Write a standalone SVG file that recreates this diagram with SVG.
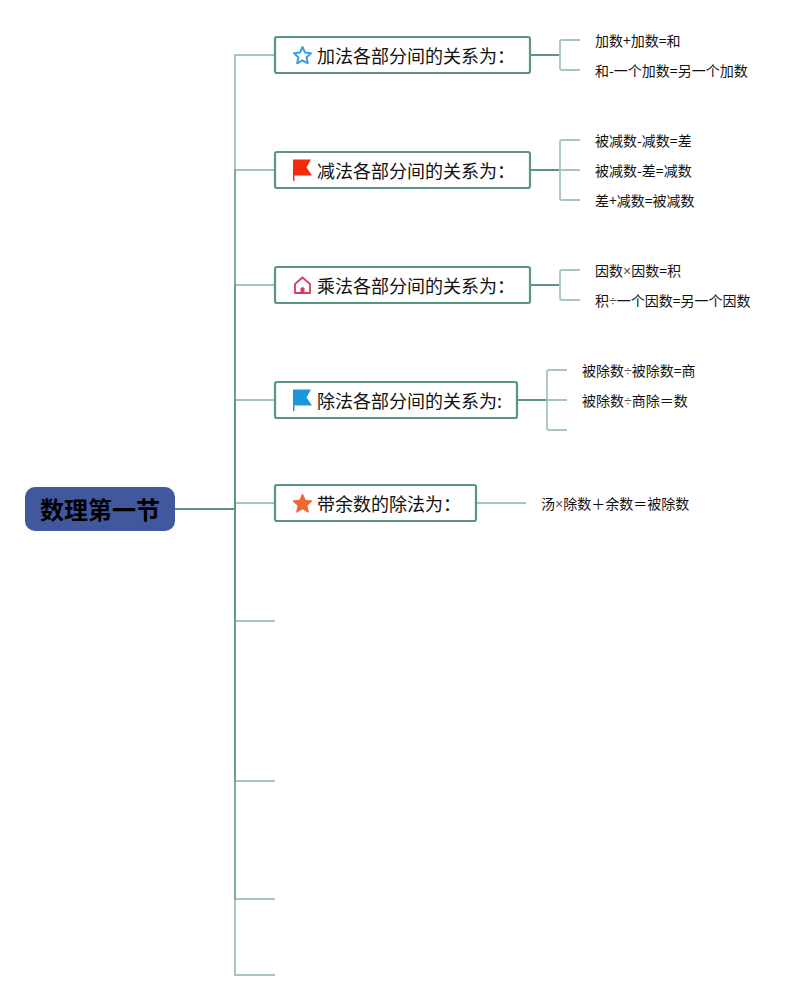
<svg xmlns="http://www.w3.org/2000/svg" width="811" height="1000" viewBox="0 0 811 1000">
<style>
text{font-family:"Noto Sans CJK SC","Liberation Sans",sans-serif;fill:#111}
.t{font-size:18px}
.s{font-size:14px}
.m{font-family:"Liberation Sans",sans-serif;fill:#555}
.b{fill:#fff;stroke:#5b9482;stroke-width:2.200}
.l{fill:none;stroke:#a5c6ba;stroke-width:1.800}
.a{fill:none;stroke:#5b9482;stroke-width:1.900;stroke-opacity:.54}
.d{fill:none;stroke:#5b9482;stroke-width:2}
</style>
<rect width="811" height="1000" fill="#fff"/>
<g id="connectors">
<path class="d" d="M175 509H235"/>
<path class="a" d="M235 509V55H275"/>
<path class="a" d="M235 509V170H275"/>
<path class="a" d="M235 509V285H275"/>
<path class="a" d="M235 509V400H275"/>
<path class="a" d="M235 509V503H275"/>
<path class="a" d="M235 509V621H275"/>
<path class="a" d="M235 509V781H275"/>
<path class="a" d="M235 509V899H275"/>
<path class="a" d="M235 509V975H275"/>
<path class="d" d="M531 55H560M531 170H560M531 285H560M518 400H547"/>
<path class="l" d="M580 40H562Q560 40 560 42V68Q560 70 562 70H580"/>
<path class="l" d="M580 140H562Q560 140 560 142V198Q560 200 562 200H580M560 170H580"/>
<path class="l" d="M580 270H562Q560 270 560 272V298Q560 300 562 300H580"/>
<path class="l" d="M567 370H549Q547 370 547 372V428Q547 430 549 430H567M547 400H567"/>
<path class="l" d="M477 503H526"/>
</g>
<g id="root"><rect x="25" y="487" width="150" height="44" rx="10" fill="#41589f"/><text x="100" y="519" text-anchor="middle" font-size="24" font-weight="700" style="fill:#000">数理第一节</text></g>
<g id="n1"><rect class="b" x="275" y="37" width="255" height="36" rx="2"/><path d="M302.500 47L305 52.500L311 53.200L306.600 57.300L307.800 63.300L302.500 60.300L297.200 63.300L298.400 57.300L294 53.200L300 52.500Z" fill="#fff" stroke="#3d9fdc" stroke-width="2" stroke-linejoin="round"/><text class="t" x="317" y="63">加法各部分间的关系为：</text></g>
<g id="n2"><rect class="b" x="275" y="152" width="255" height="36" rx="2"/><path d="M293 159.500H311L306.500 167.500L312 175.500H294.500V181H293Z" fill="#f42a0c"/><text class="t" x="317" y="178">减法各部分间的关系为：</text></g>
<g id="n3"><rect class="b" x="275" y="267" width="255" height="36" rx="2"/><path d="M295 293V284L302.500 277.500L310 284V293Z" fill="#fff" stroke="#d83a66" stroke-width="1.800" stroke-linejoin="round"/><path d="M300.500 293V288.500Q302.500 285.500 304.500 288.500V293Z" fill="#d83a66"/><text class="t" x="317" y="293">乘法各部分间的关系为：</text></g>
<g id="n4"><rect class="b" x="275" y="382" width="242" height="36" rx="2"/><path d="M293 389.500H311L306.500 397.500L312 405.500H294.500V411H293Z" fill="#1c97dc"/><text class="t" x="317" y="408">除法各部分间的关系为:</text></g>
<g id="n5"><rect class="b" x="275" y="485" width="201" height="36" rx="2"/><path d="M302.500 494L305.300 500.300L312 501L307 505.600L308.400 512.300L302.500 508.900L296.600 512.300L298 505.600L293 501L299.700 500.300Z" fill="#e86a35" stroke="#e86a35" stroke-linejoin="round"/><text class="t" x="317" y="511">带余数的除法为：</text></g>
<g id="l1"><text class="s" x="595" y="46">加数+加数=和</text></g>
<g id="l2"><text class="s" x="595" y="76">和-一个加数=另一个加数</text></g>
<g id="l3"><text class="s" x="595" y="146">被减数-减数=差</text></g>
<g id="l4"><text class="s" x="595" y="176">被减数-差=减数</text></g>
<g id="l5"><text class="s" x="595" y="206">差+减数=被减数</text></g>
<g id="l6"><text class="s" x="595" y="276">因数<tspan class="m">×</tspan>因数=积</text></g>
<g id="l7"><text class="s" x="595" y="306">积<tspan class="m">÷</tspan>一个因数=另一个因数</text></g>
<g id="l8"><text class="s" x="582" y="376">被除数<tspan class="m">÷</tspan>被除数=商</text></g>
<g id="l9"><text class="s" x="582" y="406">被除数<tspan class="m">÷</tspan>商除＝数</text></g>
<g id="l10"><text class="s" x="541" y="509">汤<tspan class="m">×</tspan>除数＋余数＝被除数</text></g>
</svg>
